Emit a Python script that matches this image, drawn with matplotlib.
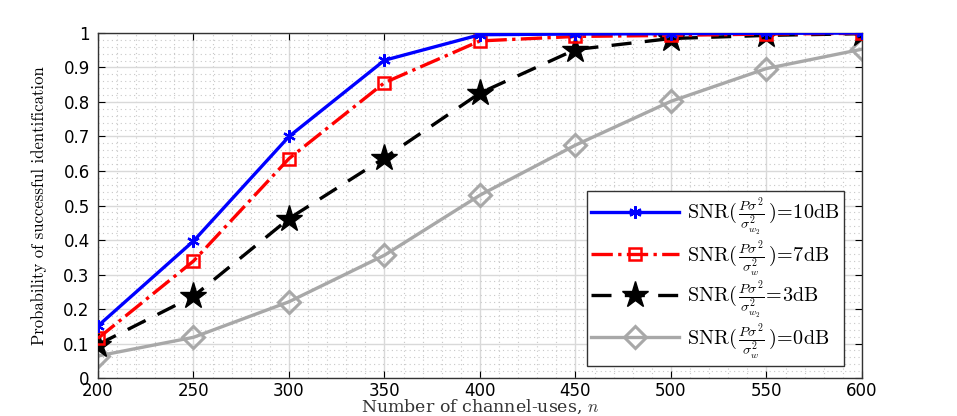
import matplotlib
matplotlib.use("Agg")
import matplotlib.pyplot as plt
from matplotlib.ticker import MultipleLocator

plt.rcParams["mathtext.fontset"] = "cm"

# Number of channel uses
n_uses = [200, 250, 300, 350, 400, 450, 500, 550, 600]

# Probability of successful identification per SNR
p_10db = [0.151, 0.397, 0.700, 0.921, 0.995, 0.997, 0.998, 0.999, 1.000]
p_7db = [0.115, 0.339, 0.636, 0.856, 0.977, 0.990, 0.993, 0.997, 0.999]
p_3db = [0.097, 0.237, 0.462, 0.638, 0.826, 0.952, 0.984, 0.993, 0.998]
p_0db = [0.064, 0.118, 0.221, 0.356, 0.530, 0.675, 0.802, 0.897, 0.953]

labels = [
    r"$\mathrm{SNR}(\,\frac{P\sigma^2}{\sigma^2_{w_2}}\,)\!=\!10\mathrm{dB}$",
    r"$\mathrm{SNR}(\,\frac{P\sigma^2}{\sigma^2_{w}}\,)\!=\!7\mathrm{dB}$",
    r"$\mathrm{SNR}(\,\frac{P\sigma^2}{\sigma^2_{w_2}}\!=\!3\mathrm{dB}$",
    r"$\mathrm{SNR}(\,\frac{P\sigma^2}{\sigma^2_{w}}\,)\!=\!0\mathrm{dB}$",
]

fig = plt.figure(figsize=(9.57, 4.16), dpi=100)
ax = fig.add_axes([0.1024, 0.0913, 0.7983, 0.8294])

gray = (0.66, 0.66, 0.66)
ax.plot(n_uses, p_10db, color="blue", linestyle="-", linewidth=2.4,
        marker=(6, 2, 0), markersize=9, markeredgewidth=1.6, label=labels[0], zorder=5)
ax.plot(n_uses, p_7db, color="red", linestyle="-.", linewidth=2.4,
        marker="s", markersize=8, markerfacecolor="none", markeredgewidth=1.8,
        label=labels[1], zorder=4)
ax.plot(n_uses, p_3db, color="black", linestyle=(0, (6, 4)), linewidth=2.4,
        marker="*", markersize=20, label=labels[2], zorder=3)
ax.plot(n_uses, p_0db, color=gray, linestyle="-", linewidth=2.4,
        marker="D", markersize=11, markerfacecolor="none", markeredgewidth=2.2,
        label=labels[3], zorder=2)

ax.set_xlim(200, 600)
ax.set_ylim(0, 1)
ax.xaxis.set_major_locator(MultipleLocator(50))
ax.xaxis.set_minor_locator(MultipleLocator(10))
ax.yaxis.set_minor_locator(MultipleLocator(0.02))
ax.set_yticks([0, 0.1, 0.2, 0.3, 0.4, 0.5, 0.6, 0.7, 0.8, 0.9, 1.0])
ax.set_yticklabels(["0", "0.1", "0.2", "0.3", "0.4", "0.5", "0.6", "0.7", "0.8", "0.9", "1"])

ax.grid(True, which="major", color="#d9d9d9", linewidth=1.0)
ax.grid(True, which="minor", color="#c8c8c8", linestyle=(0, (1, 3)), linewidth=0.8)
ax.set_axisbelow(True)

ax.tick_params(which="both", direction="in", top=True, right=True,
               labelsize=12)
ax.tick_params(axis="y", pad=6)
ax.tick_params(axis="x", pad=3)
ax.tick_params(which="major", length=5)
ax.tick_params(which="minor", length=0)
for s in ax.spines.values():
    s.set_color("#333333")
    s.set_linewidth(1.0)

ax.set_xlabel(r"Number of channel-uses, $n$", family="DejaVu Serif",
              fontsize=12.5, color="#333333", labelpad=-1.5)
ax.set_ylabel("Probability of successful identification", family="cmr10",
              fontsize=12, labelpad=12)

leg = ax.legend(loc="lower right", bbox_to_anchor=(0.976, 0.036),
                borderaxespad=0, fontsize=14.5, handlelength=4.4,
                fancybox=False, framealpha=1, edgecolor="#333333",
                labelspacing=0.0, borderpad=0.2, handletextpad=0.4)
leg.get_frame().set_linewidth(1.0)

fig.savefig("out.png", dpi=100)
